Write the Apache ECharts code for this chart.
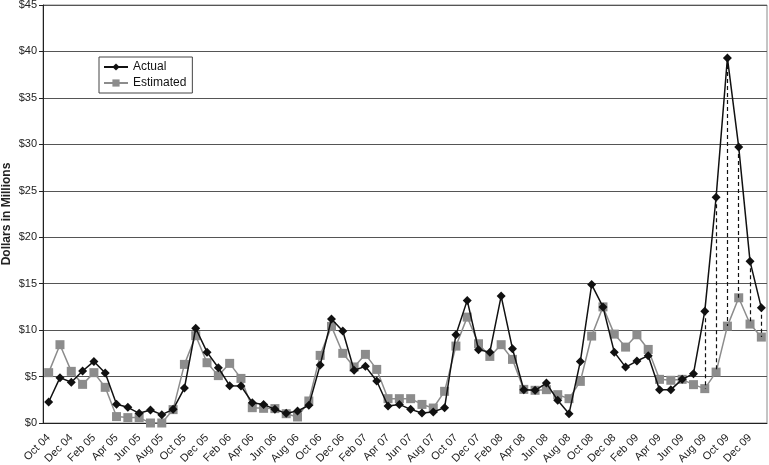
<!DOCTYPE html>
<html>
<head>
<meta charset="utf-8">
<script src="https://cdn.jsdelivr.net/npm/echarts@6/dist/echarts.min.js"></script>
<style>
  html, body { margin: 0; padding: 0; background: #fff; }
  #chart { width: 769px; height: 465px; }
</style>
</head>
<body>
<div id="chart"></div>
<script>
// months Oct 04 .. Jan 10
const months = [
  'Oct 04', 'Nov 04', 'Dec 04', 'Jan 05', 'Feb 05', 'Mar 05', 'Apr 05', 'May 05', 'Jun 05', 'Jul 05', 'Aug 05', 'Sep 05',
  'Oct 05', 'Nov 05', 'Dec 05', 'Jan 06', 'Feb 06', 'Mar 06', 'Apr 06', 'May 06', 'Jun 06', 'Jul 06', 'Aug 06', 'Sep 06',
  'Oct 06', 'Nov 06', 'Dec 06', 'Jan 07', 'Feb 07', 'Mar 07', 'Apr 07', 'May 07', 'Jun 07', 'Jul 07', 'Aug 07', 'Sep 07',
  'Oct 07', 'Nov 07', 'Dec 07', 'Jan 08', 'Feb 08', 'Mar 08', 'Apr 08', 'May 08', 'Jun 08', 'Jul 08', 'Aug 08', 'Sep 08',
  'Oct 08', 'Nov 08', 'Dec 08', 'Jan 09', 'Feb 09', 'Mar 09', 'Apr 09', 'May 09', 'Jun 09', 'Jul 09', 'Aug 09', 'Sep 09',
  'Oct 09', 'Nov 09', 'Dec 09', 'Jan 10'
]

const actual = [
  2.26, 4.88, 4.38, 5.6, 6.63, 5.38, 2.01, 1.69, 1.04, 1.4, 0.9, 1.47,
  3.76, 10.2, 7.63, 5.95, 4.02, 3.98, 2.19, 2.0, 1.47, 1.04, 1.29, 1.9,
  6.24, 11.2, 9.9, 5.67, 6.1, 4.52, 1.83, 2.0, 1.47, 1.08, 1.18, 1.65,
  9.5, 13.2, 7.89, 7.63, 13.66, 8.0, 3.59, 3.52, 4.3, 2.44, 1.0, 6.63,
  14.9, 12.5, 7.63, 6.02, 6.67, 7.25, 3.59, 3.59, 4.7, 5.31, 12.04, 24.3,
  39.3, 29.7, 17.4, 12.4
]

const estimated = [
  5.42, 8.43, 5.56, 4.16, 5.42, 3.84, 0.69, 0.58, 0.58, 0.0, 0.0, 1.44,
  6.31, 9.4, 6.49, 5.1, 6.42, 4.8, 1.65, 1.58, 1.55, 1.0, 0.65, 2.37,
  7.28, 10.4, 7.5, 6.03, 7.39, 5.77, 2.62, 2.62, 2.62, 2.0, 1.61, 3.41,
  8.28, 11.4, 8.53, 7.17, 8.43, 6.85, 3.62, 3.52, 3.59, 3.05, 2.62, 4.48,
  9.36, 12.5, 9.57, 8.17, 9.5, 7.92, 4.7, 4.6, 4.7, 4.13, 3.7, 5.48,
  10.43, 13.48, 10.65, 9.25
]

// months with dashed gap lines between actual and estimated
const gapMonths = ['Aug 09', 'Sep 09', 'Oct 09', 'Nov 09', 'Dec 09', 'Jan 10']

const gapLines = gapMonths.map(m => {
  const i = months.indexOf(m)
  return [{ coord: [m, actual[i]] }, { coord: [m, estimated[i]] }]
})

const font = 'Liberation Sans, Arial, sans-serif'

const chart = echarts.init(document.getElementById('chart'))
chart.setOption({
  animation: false,
  backgroundColor: '#fff',
  textStyle: { fontFamily: font },
  grid: {
    left: 43,
    right: 2,
    top: 5,
    bottom: 42,
    outerBoundsMode: 'none',
    containLabel: false,
    show: true,
    borderColor: '#8a8a8a',
    borderWidth: 1
  },
  legend: {
    orient: 'vertical',
    left: 99,
    top: 57,
    padding: [4, 6, 4, 4],
    itemGap: 4,
    itemWidth: 24,
    itemHeight: 9,
    borderColor: '#444',
    borderWidth: 1,
    textStyle: { fontFamily: font, fontSize: 12, color: '#111' },
    data: ['Actual', 'Estimated']
  },
  xAxis: {
    type: 'category',
    data: months,
    boundaryGap: true,
    axisLine: { lineStyle: { color: '#222', width: 1 } },
    axisTick: { interval: 0, length: 4, lineStyle: { color: '#222' } },
    axisLabel: {
      interval: 1,
      rotate: 45,
      fontSize: 11,
      color: '#222',
      fontFamily: font,
      margin: 13
    },
    splitLine: { show: false }
  },
  yAxis: {
    type: 'value',
    min: 0,
    max: 45,
    interval: 5,
    name: 'Dollars in Millions',
    nameLocation: 'middle',
    nameGap: 30,
    nameMoveOverlap: false,
    nameTextStyle: { fontFamily: font, fontSize: 12, fontWeight: 'bold', color: '#222' },
    axisLine: { show: true, lineStyle: { color: '#222' } },
    axisTick: { show: true, length: 4, lineStyle: { color: '#222' } },
    axisLabel: {
      formatter: v => '$' + v,
      fontSize: 11,
      color: '#222',
      fontFamily: font,
      margin: 6
    },
    splitLine: { lineStyle: { color: '#555', width: 1 } }
  },
  series: [
    {
      name: 'Estimated',
      type: 'line',
      data: estimated,
      symbol: 'rect',
      symbolSize: 9,
      showAllSymbol: true,
      itemStyle: { color: '#8c8c8c' },
      lineStyle: { color: '#8c8c8c', width: 1.5 },
      z: 2
    },
    {
      name: 'Actual',
      type: 'line',
      data: actual,
      symbol: 'diamond',
      symbolSize: 9,
      showAllSymbol: true,
      itemStyle: { color: '#111' },
      lineStyle: { color: '#111', width: 1.5 },
      z: 3,
      markLine: {
        silent: true,
        symbol: 'none',
        label: { show: false },
        lineStyle: { color: '#111', type: [4, 3], width: 1.2 },
        data: gapLines
      }
    }
  ]
})
</script>
</body>
</html>
